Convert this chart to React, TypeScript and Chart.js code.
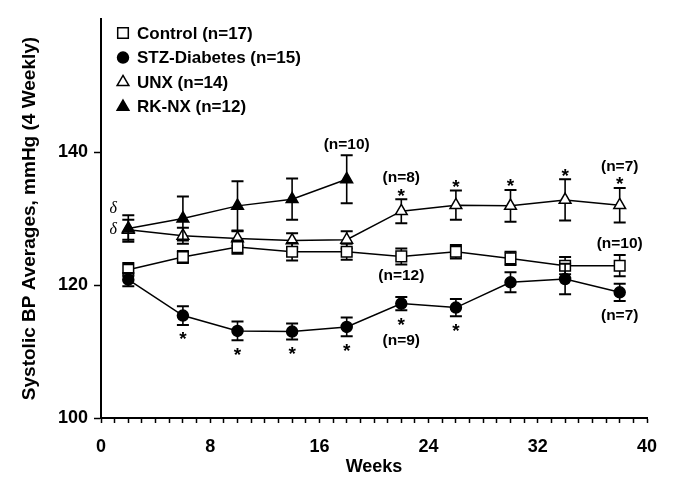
import React, { useEffect, useRef } from 'react';
import { Chart, registerables } from 'chart.js';

Chart.register(...registerables);

// ---------- data ----------
const weeks = [2, 6, 10, 14, 18, 22, 26, 30, 34, 38];
const rkWeeks = [2, 6, 10, 14, 18];

const controlMean = [122.3, 124.2, 125.7, 125.0, 125.0, 124.3, 125.0, 124.0, 122.9, 122.9];
const controlErr = [1.0, 0.9, 1.0, 1.3, 1.2, 1.2, 1.0, 1.0, 1.3, 1.6];

const stzMean = [120.8, 115.4, 113.1, 113.0, 113.7, 117.2, 116.6, 120.4, 120.9, 118.9];
const stzErr = [1.0, 1.4, 1.4, 1.2, 1.4, 1.0, 1.3, 1.5, 2.3, 1.3];

const unxMean = [128.3, 127.4, 127.0, 126.7, 126.8, 131.1, 132.0, 131.9, 132.8, 132.0];
const unxErr = [1.5, 1.2, 1.1, 1.1, 1.3, 1.8, 2.2, 2.4, 3.1, 2.6];

const rkMean = [128.5, 130.0, 131.9, 132.9, 135.9];
const rkErr = [2.0, 3.3, 3.7, 3.1, 3.6];

const legendLabels = ['Control (n=17)', 'STZ-Diabetes (n=15)', 'UNX (n=14)', 'RK-NX (n=12)'];
const legendStyles = ['openSquare', 'filledCircle', 'openTriangle', 'filledTriangle'];

const xTickLabels = [0, 8, 16, 24, 32, 40];
const yTickLabels = [100, 120, 140];

const stzStars = [false, true, true, true, true, true, true, false, false, false];
const unxStars = [false, false, false, false, false, true, true, true, true, true];

const nLabelText = ['(n=10)', '(n=8)', '(n=7)', '(n=10)', '(n=12)', '(n=9)', '(n=7)'];
const nLabelSeries = ['rk', 'unx', 'unx', 'control', 'stz', 'stz', 'stz'];
const nLabelIndex = [4, 5, 9, 9, 5, 5, 9];
const nLabelSide = ['above', 'above', 'above', 'above', 'above', 'below', 'below'];

const deltaSeries = ['rk', 'unx'];
const deltaIndex = [0, 0];

// ---------- helpers ----------
const FONT = '"Liberation Sans", Arial, Helvetica, sans-serif';
const toPts = (xs: number[], ys: number[]) => xs.map((x, i) => ({ x, y: ys[i] }));

const seriesMap: Record<string, { xs: number[]; mean: number[]; err: number[]; stars?: boolean[] }> = {
  control: { xs: weeks, mean: controlMean, err: controlErr },
  stz: { xs: weeks, mean: stzMean, err: stzErr, stars: stzStars },
  unx: { xs: weeks, mean: unxMean, err: unxErr, stars: unxStars },
  rk: { xs: rkWeeks, mean: rkMean, err: rkErr },
};

function drawMarker(ctx: CanvasRenderingContext2D, style: string, x: number, y: number) {
  ctx.save();
  ctx.lineWidth = 1.5;
  ctx.strokeStyle = '#000';
  ctx.beginPath();
  if (style === 'openSquare') {
    ctx.rect(x - 5.3, y - 5.3, 10.6, 10.6);
    ctx.fillStyle = '#fff';
  } else if (style === 'filledCircle') {
    ctx.arc(x, y, 5.5, 0, Math.PI * 2);
    ctx.fillStyle = '#000';
  } else {
    const r = 6.8;
    let a = 0;
    ctx.moveTo(x + Math.sin(a) * r, y - Math.cos(a) * r);
    a += (2 * Math.PI) / 3;
    ctx.lineTo(x + Math.sin(a) * r, y - Math.cos(a) * r);
    a += (2 * Math.PI) / 3;
    ctx.lineTo(x + Math.sin(a) * r, y - Math.cos(a) * r);
    ctx.closePath();
    ctx.fillStyle = style === 'filledTriangle' ? '#000' : '#fff';
  }
  ctx.fill();
  ctx.stroke();
  ctx.restore();
}

const errorBarPlugin = {
  id: 'errorBars',
  beforeDatasetDraw(chart: any, args: any) {
    const ds = chart.data.datasets[args.index];
    const errs: number[] = ds.errors;
    if (!errs) return;
    const ctx: CanvasRenderingContext2D = chart.ctx;
    const yScale = chart.scales.y;
    ctx.save();
    ctx.strokeStyle = '#000';
    args.meta.data.forEach((pt: any, i: number) => {
      const v = ds.data[i].y;
      const e = errs[i];
      const x = pt.x;
      const yt = yScale.getPixelForValue(v + e);
      const yb = yScale.getPixelForValue(v - e);
      ctx.lineWidth = 1.6;
      ctx.beginPath();
      ctx.moveTo(x, yt);
      ctx.lineTo(x, yb);
      ctx.stroke();
      ctx.lineWidth = 2;
      ctx.beginPath();
      ctx.moveTo(x - 6, yt);
      ctx.lineTo(x + 6, yt);
      ctx.moveTo(x - 6, yb);
      ctx.lineTo(x + 6, yb);
      ctx.stroke();
    });
    ctx.restore();
  },
};

const annotationPlugin = {
  id: 'annotations',
  afterDatasetsDraw(chart: any) {
    const ctx: CanvasRenderingContext2D = chart.ctx;
    const xS = chart.scales.x;
    const yS = chart.scales.y;
    ctx.save();
    ctx.fillStyle = '#000';
    ctx.textAlign = 'center';

    const drawStar = (px: number, cy: number) => {
      ctx.font = `bold 19px ${FONT}`;
      ctx.textBaseline = 'alphabetic';
      ctx.fillText('*', px, cy + 10.5);
    };

    // asterisks
    stzStars.forEach((s, i) => {
      if (s) drawStar(xS.getPixelForValue(weeks[i]), yS.getPixelForValue(stzMean[i] - stzErr[i]) + 10);
    });
    unxStars.forEach((s, i) => {
      if (s) drawStar(xS.getPixelForValue(weeks[i]), yS.getPixelForValue(unxMean[i] + unxErr[i]) - 8);
    });

    // n labels
    ctx.font = `bold 15.5px ${FONT}`;
    ctx.textBaseline = 'middle';
    nLabelText.forEach((t, k) => {
      const s = seriesMap[nLabelSeries[k]];
      const i = nLabelIndex[k];
      const px = xS.getPixelForValue(s.xs[i]);
      const star = s.stars ? s.stars[i] : false;
      let py: number;
      if (nLabelSide[k] === 'above') {
        py = yS.getPixelForValue(s.mean[i] + s.err[i]) - (star ? 21 : 11);
      } else {
        py = yS.getPixelForValue(s.mean[i] - s.err[i]) + (star ? 30 : 15);
      }
      ctx.fillText(t, px, py);
    });

    // delta symbols
    ctx.font = `italic 16px "Liberation Serif", "DejaVu Serif", serif`;
    ctx.textBaseline = 'middle';
    deltaSeries.forEach((name, k) => {
      const s = seriesMap[name];
      const i = deltaIndex[k];
      const px = xS.getPixelForValue(s.xs[i]) - 15;
      const py = k === 0 ? yS.getPixelForValue(s.mean[i] + s.err[i]) - 6 : yS.getPixelForValue(s.mean[i]);
      ctx.fillText('δ', px, py);
    });

    // legend
    const area = chart.chartArea;
    ctx.font = `bold 17px ${FONT}`;
    ctx.textAlign = 'left';
    ctx.textBaseline = 'middle';
    legendLabels.forEach((lbl, k) => {
      const ly = area.top + 14 + k * 24.6;
      drawMarker(ctx, legendStyles[k], area.left + 22, ly);
      ctx.fillStyle = '#000';
      ctx.fillText(lbl, area.left + 36, ly + 1);
    });
    ctx.restore();
  },
};

export default function App() {
  const canvasRef = useRef<HTMLCanvasElement | null>(null);

  useEffect(() => {
    const canvas = canvasRef.current;
    if (!canvas) return;
    const common = {
      borderColor: '#000',
      borderWidth: 1.5,
      pointBorderColor: '#000',
      pointBorderWidth: 1.5,
      tension: 0,
      fill: false,
    };
    const chart = new Chart(canvas, {
      type: 'line',
      data: {
        datasets: [
          {
            ...common,
            label: 'RK-NX (n=12)',
            data: toPts(rkWeeks, rkMean),
            errors: rkErr,
            pointStyle: 'triangle',
            pointRadius: 6.8,
            pointBackgroundColor: '#000',
          } as any,
          {
            ...common,
            label: 'STZ-Diabetes (n=15)',
            data: toPts(weeks, stzMean),
            errors: stzErr,
            pointStyle: 'circle',
            pointRadius: 5.5,
            pointBackgroundColor: '#000',
          } as any,
          {
            ...common,
            label: 'Control (n=17)',
            data: toPts(weeks, controlMean),
            errors: controlErr,
            pointStyle: 'rect',
            pointRadius: 7.5,
            pointBackgroundColor: '#fff',
          } as any,
          {
            ...common,
            label: 'UNX (n=14)',
            data: toPts(weeks, unxMean),
            errors: unxErr,
            pointStyle: 'triangle',
            pointRadius: 6.8,
            pointBackgroundColor: '#fff',
          } as any,
        ],
      },
      options: {
        responsive: false,
        animation: false,
        devicePixelRatio: 1,
        layout: { padding: { top: 19, right: 29, left: 0, bottom: 0 } },
        plugins: {
          legend: { display: false },
          tooltip: { enabled: false },
        },
        scales: {
          x: {
            type: 'linear',
            min: 0,
            max: 40,
            ticks: {
              stepSize: 1,
              autoSkip: false,
              maxRotation: 0,
              color: '#000',
              padding: 13,
              font: { family: FONT, size: 18, weight: 'bold' },
              callback: (v: any) => (xTickLabels.includes(Number(v)) ? String(v) : ''),
            },
            grid: {
              drawOnChartArea: false,
              drawTicks: true,
              tickLength: 5,
              tickColor: '#000',
              tickWidth: 1.5,
            },
            border: { color: '#000', width: 2 },
            title: {
              display: true,
              text: 'Weeks',
              color: '#000',
              font: { family: FONT, size: 18, weight: 'bold' },
              padding: { top: 5, bottom: 5 },
            },
            afterFit: (s: any) => {
              s.height = 65;
            },
          },
          y: {
            min: 100,
            max: 160,
            ticks: {
              stepSize: 20,
              color: '#000',
              padding: 6,
              font: { family: FONT, size: 18, weight: 'bold' },
              callback: (v: any) => (yTickLabels.includes(Number(v)) ? String(v) : ''),
            },
            grid: {
              drawOnChartArea: false,
              drawTicks: true,
              tickLength: 7,
              tickWidth: 1.5,
              tickColor: (c: any) =>
                c.tick && !yTickLabels.includes(c.tick.value) ? 'rgba(0,0,0,0)' : '#000',
            },
            border: { color: '#000', width: 2 },
            title: {
              display: true,
              text: 'Systolic BP Averages, mmHg (4 Weekly)',
              color: '#000',
              font: { family: FONT, size: 19, weight: 'bold' },
              padding: { top: 18, bottom: 18 },
            },
            afterFit: (s: any) => {
              s.width = 101;
            },
          },
        },
      } as any,
      plugins: [errorBarPlugin, annotationPlugin],
    });
    return () => chart.destroy();
  }, []);

  return (
    <div style={{ position: 'absolute', left: 0, top: 0, width: 676, height: 483, background: '#fff' }}>
      <canvas ref={canvasRef} width={676} height={483} style={{ display: 'block', width: 676, height: 483 }} />
    </div>
  );
}
